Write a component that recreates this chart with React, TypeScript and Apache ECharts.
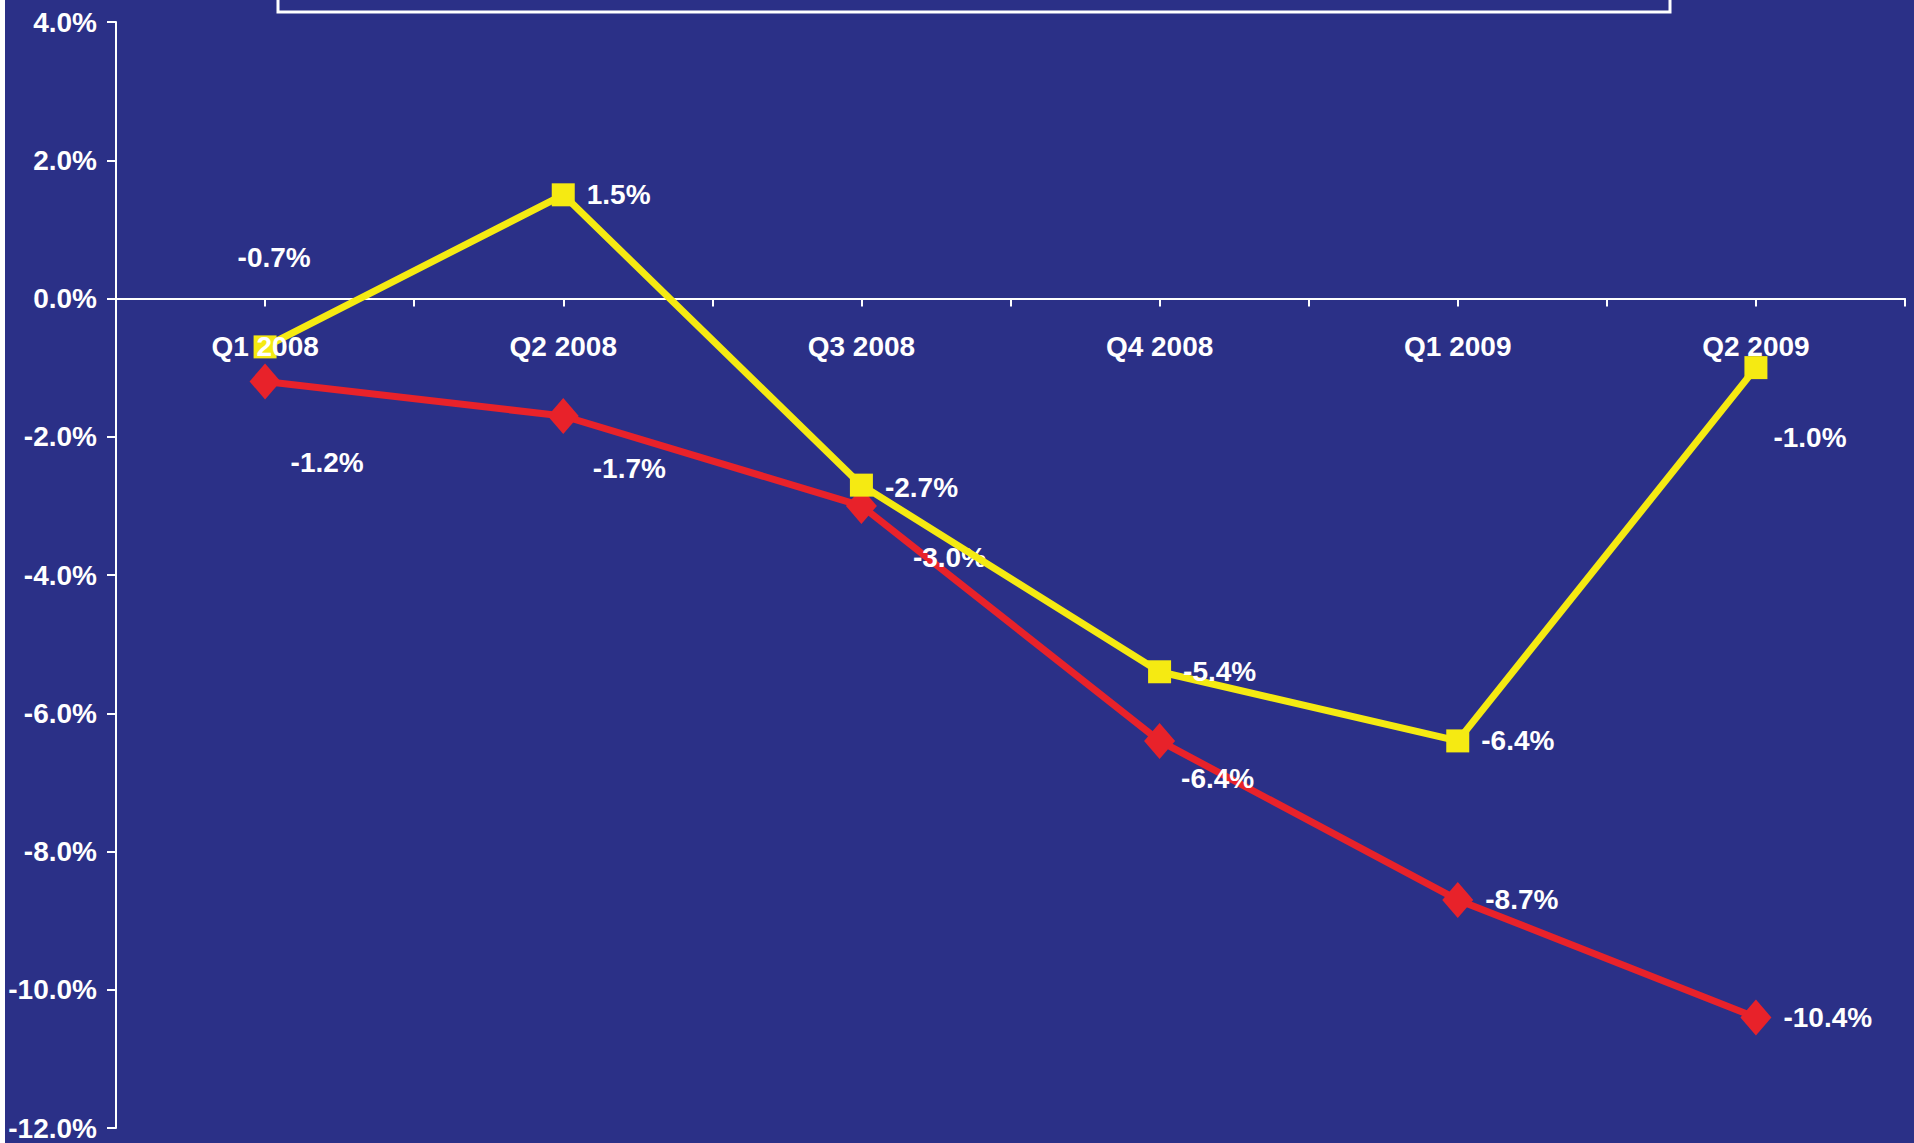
import React, { useEffect, useRef } from "react";
import * as echarts from "echarts";

// Quarterly change, two series
const categories = ["Q1 2008", "Q2 2008", "Q3 2008", "Q4 2008", "Q1 2009", "Q2 2009"];
const yellowValues = [-0.7, 1.5, -2.7, -5.4, -6.4, -1.0];
const redValues = [-1.2, -1.7, -3.0, -6.4, -8.7, -10.4];

// Axis range and tick labels
const yMin = -12;
const yMax = 4;
const yStep = 2;

// Per-point label nudges (relative to the default right-hand placement)
const yellowLabelOffsets = [[-51, -89], [0, 0], [0, 2], [0, 0], [0, 0], [-6, 70]];
const redLabelOffsets = [[-2, 81], [2, 52], [24, 52], [-6, 38], [0, 0], [0, 0]];

const BG = "#2B3087";
const YELLOW = "#F5EA12";
const RED = "#E8222A";
const FONT = "'Liberation Sans', Arial, Helvetica, sans-serif";

const CHART_W = 1909;
const CHART_H = 1143;
const GRID = { left: 111, right: 9, top: 22, bottom: 15 };

export default function App() {
  const ref = useRef<HTMLDivElement>(null);

  useEffect(() => {
    document.body.style.margin = "0";
    if (!ref.current) return;
    const chart = echarts.init(ref.current, null, { renderer: "svg" });

    const plotH = CHART_H - GRID.top - GRID.bottom;
    const zeroY = GRID.top + (plotH * yMax) / (yMax - yMin);

    const labelText = {
      color: "#FFFFFF",
      fontFamily: FONT,
      fontWeight: "bold" as const,
      fontSize: 28,
    };

    const fmt = (p: any) => Number(p.value).toFixed(1) + "%";

    chart.setOption({
      animation: false,
      backgroundColor: BG,
      grid: { ...GRID, containLabel: false },
      graphic: [
        {
          type: "rect",
          shape: { x: 273, y: -80, width: 1392, height: 92 },
          style: { fill: "transparent", stroke: "#FFFFFF", lineWidth: 3 },
          z: 1,
        },
      ],
      xAxis: [
        {
          type: "category",
          data: categories,
          boundaryGap: true,
          position: "bottom",
          axisLine: { show: true, onZero: true, lineStyle: { color: "#FFFFFF", width: 2 } },
          axisTick: { show: true, alignWithLabel: false, length: 8, lineStyle: { color: "#FFFFFF", width: 2 } },
          axisLabel: { show: false },
          splitLine: { show: false },
        },
        {
          type: "category",
          data: categories,
          boundaryGap: true,
          position: "top",
          offset: -(zeroY - GRID.top),
          z: 10,
          axisLine: { show: false, onZero: false },
          axisTick: { show: true, alignWithLabel: true, inside: true, length: 8, lineStyle: { color: "#FFFFFF", width: 2 } },
          axisLabel: { show: true, inside: true, margin: 34, ...labelText },
          splitLine: { show: false },
        },
      ],
      yAxis: {
        type: "value",
        min: yMin,
        max: yMax,
        interval: yStep,
        axisLine: { show: true, lineStyle: { color: "#FFFFFF", width: 2 } },
        axisTick: { show: true, length: 9, lineStyle: { color: "#FFFFFF", width: 2 } },
        axisLabel: {
          margin: 19,
          formatter: (v: number) => v.toFixed(1) + "%",
          ...labelText,
        },
        splitLine: { show: false },
      },
      series: [
        {
          name: "red",
          type: "line",
          xAxisIndex: 0,
          data: redValues.map((v, i) => ({
            value: v,
            label: { offset: redLabelOffsets[i] },
          })),
          symbol: "diamond",
          symbolSize: [31, 36],
          lineStyle: { color: RED, width: 7 },
          itemStyle: { color: RED },
          label: { show: true, position: "right", distance: 12, formatter: fmt, ...labelText },
          z: 3,
        },
        {
          name: "yellow",
          type: "line",
          xAxisIndex: 0,
          data: yellowValues.map((v, i) => ({
            value: v,
            label: { offset: yellowLabelOffsets[i] },
          })),
          symbol: "rect",
          symbolSize: 23,
          lineStyle: { color: YELLOW, width: 7 },
          itemStyle: { color: YELLOW },
          label: { show: true, position: "right", distance: 12, formatter: fmt, ...labelText },
          z: 4,
        },
      ],
    });

    return () => chart.dispose();
  }, []);

  return (
    <div style={{ position: "relative", width: 1914, height: 1143, background: "#FFFFFF", overflow: "hidden" }}>
      <div ref={ref} style={{ position: "absolute", left: 5, top: 0, width: CHART_W, height: CHART_H }} />
    </div>
  );
}
